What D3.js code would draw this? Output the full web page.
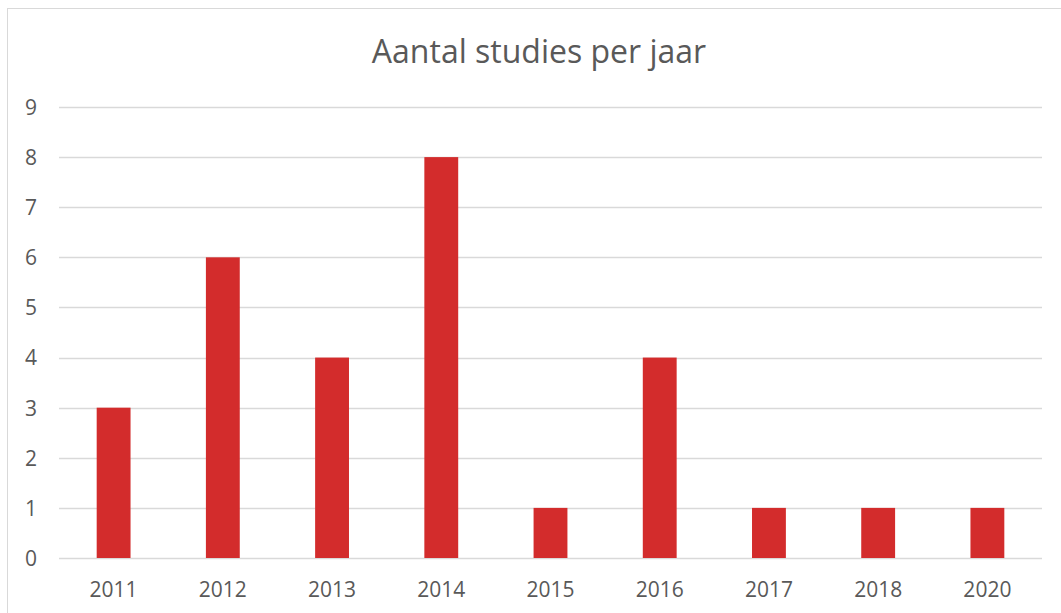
<!DOCTYPE html>
<html>
<head>
<meta charset="utf-8">
<script src="https://cdn.jsdelivr.net/npm/d3@7"></script>
<style>
  body { margin: 0; background: #fff; }
  text { font-family: "Open Sans", sans-serif; fill: #595959; }
</style>
</head>
<body>
<div id="chart"></div>
<script>
// data
var years = ["2011", "2012", "2013", "2014", "2015", "2016", "2017", "2018", "2020"];
var counts = [3, 6, 4, 8, 1, 4, 1, 1, 1];
var yTicks = [0, 1, 2, 3, 4, 5, 6, 7, 8, 9];
var title = "Aantal studies per jaar";

var W = 1061, H = 613;
var margin = {top: 107, right: 19, bottom: 55, left: 59};
var width = W - margin.left - margin.right;
var height = H - margin.top - margin.bottom;

var svg = d3.select("#chart").append("svg")
    .attr("width", W)
    .attr("height", H);

// chart border (right/bottom fall outside the picture)
svg.append("rect")
    .attr("x", 7.5).attr("y", 8.5)
    .attr("width", W + 10).attr("height", H + 10)
    .attr("fill", "none")
    .attr("stroke", "#d9d9d9");

svg.append("text")
    .attr("x", (7 + W) / 2 + 5)
    .attr("y", 63)
    .attr("text-anchor", "middle")
    .style("font-size", "32px")
    .text(title);

var g = svg.append("g")
    .attr("transform", "translate(" + margin.left + "," + margin.top + ")");

var x = d3.scaleBand()
    .domain(years)
    .range([0, width])
    .paddingInner(0.69)
    .paddingOuter(0.345);

var y = d3.scaleLinear()
    .domain([0, 9])
    .range([height, 0]);

// gridlines
g.append("g")
    .selectAll("line")
    .data(yTicks)
    .enter()
    .append("line")
        .attr("x1", 0)
        .attr("x2", width)
        .attr("y1", function(d) { return Math.round(y(d)) + 0.5; })
        .attr("y2", function(d) { return Math.round(y(d)) + 0.5; })
        .attr("stroke", "#d9d9d9")
        .attr("stroke-width", 1.3);

// y axis labels
var yAxis = g.append("g")
    .attr("transform", "translate(-22,0)")
    .call(d3.axisLeft(y).tickValues(yTicks).tickSize(0).tickPadding(0));
yAxis.select(".domain").remove();
yAxis.selectAll("text").style("font-size", "21px").attr("dy", "0.35em");

// x axis labels
var xAxis = g.append("g")
    .attr("transform", "translate(0," + height + ")")
    .call(d3.axisBottom(x).tickSize(0).tickPadding(24));
xAxis.select(".domain").remove();
xAxis.selectAll("text").style("font-size", "21px");

// bars
g.selectAll("rect.bar")
    .data(counts)
    .enter()
    .append("rect")
        .attr("class", "bar")
        .attr("x", function(d, i) { return x(years[i]); })
        .attr("y", function(d) { return y(d); })
        .attr("width", x.bandwidth())
        .attr("height", function(d) { return height - y(d); })
        .style("fill", "#d32c2c");
</script>
</body>
</html>
